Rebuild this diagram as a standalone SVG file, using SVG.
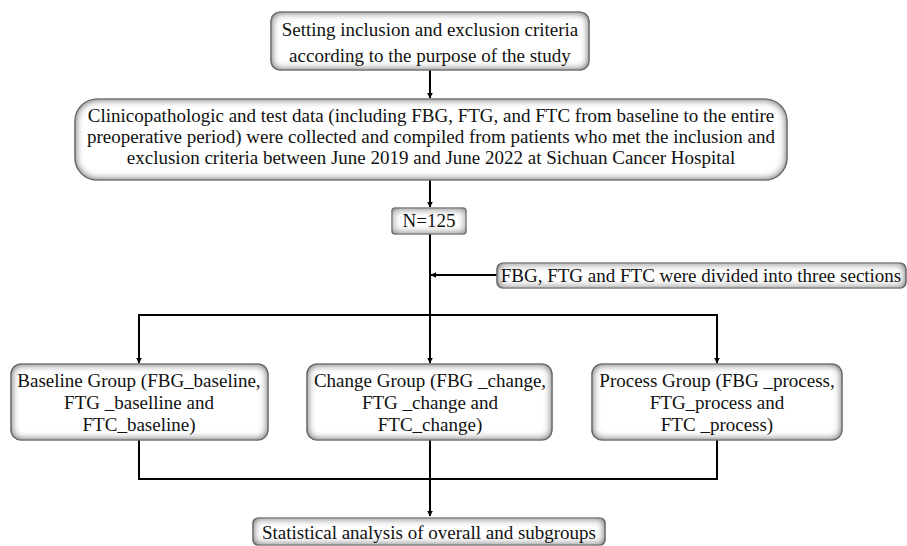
<svg xmlns="http://www.w3.org/2000/svg" width="907" height="546" viewBox="0 0 907 546">
<defs>
<style>
.box{fill:#fff;stroke:#8a8a8a;stroke-width:1.2;filter:url(#inset)}
.t{font-family:"Liberation Serif","Times New Roman",serif;font-size:19px;fill:#111;text-anchor:middle}
.ln{fill:none;stroke:#000;stroke-width:2}
</style>
<filter id="inset" x="-5%" y="-20%" width="110%" height="140%">
<feFlood flood-color="#555" result="f"/>
<feComposite in="f" in2="SourceAlpha" operator="out" result="o"/>
<feGaussianBlur in="o" stdDeviation="4" result="b"/>
<feComposite in="b" in2="SourceAlpha" operator="in" result="s"/>
<feMerge><feMergeNode in="SourceGraphic"/><feMergeNode in="s"/><feMergeNode in="s"/></feMerge>
</filter>
<marker id="ah" viewBox="0 0 10 10" refX="9" refY="5" markerWidth="3" markerHeight="3" orient="auto" markerUnits="strokeWidth">
<path d="M0,0 L10,5 L0,10 z" fill="#000"/>
</marker>
</defs>
<rect width="907" height="546" fill="#fff"/>
<g id="connectors">
<path class="ln" d="M430,70 V98" marker-end="url(#ah)"/>
<path class="ln" d="M430,180 V207" marker-end="url(#ah)"/>
<path class="ln" d="M430,234 V363" marker-end="url(#ah)"/>
<path class="ln" d="M497,275 H431" marker-end="url(#ah)"/>
<path class="ln" d="M139,363 V315 H717 V363" />
<path class="ln" d="M139,356 V363" marker-end="url(#ah)"/>
<path class="ln" d="M717,356 V363" marker-end="url(#ah)"/>
<path class="ln" d="M139,440 V479 H717 V440"/>
<path class="ln" d="M430,440 V516" marker-end="url(#ah)"/>
</g>
<g id="n1">
<rect class="box" x="271" y="12" width="318" height="58" rx="9"/>
<text class="t" x="430" y="36">Setting inclusion and exclusion criteria</text>
<text class="t" x="430" y="62">according to the purpose of the study</text>
</g>
<g id="n2">
<rect class="box" x="75" y="99" width="712" height="81" rx="22"/>
<text class="t" x="431" y="122">Clinicopathologic and test data (including FBG, FTG, and FTC from baseline to the entire</text>
<text class="t" x="431" y="143">preoperative period) were collected and compiled from patients who met the inclusion and</text>
<text class="t" x="431" y="164">exclusion criteria between June 2019 and June 2022 at Sichuan Cancer Hospital</text>
</g>
<g id="n3">
<rect class="box" x="392" y="208" width="74" height="26" rx="3"/>
<text class="t" x="429" y="227">N=125</text>
</g>
<g id="n4">
<rect class="box" x="497" y="263" width="409" height="25" rx="6"/>
<text class="t" x="701" y="282">FBG, FTG and FTC were divided into three sections</text>
</g>
<g id="n5">
<rect class="box" x="11" y="364" width="257" height="76" rx="10"/>
<text class="t" x="139" y="387">Baseline Group (FBG_baseline,</text>
<text class="t" x="139" y="409">FTG _baselline and</text>
<text class="t" x="139" y="431">FTC_baseline)</text>
</g>
<g id="n6">
<rect class="box" x="307" y="364" width="245" height="76" rx="10"/>
<text class="t" x="430" y="387">Change Group (FBG _change,</text>
<text class="t" x="430" y="409">FTG _change and</text>
<text class="t" x="430" y="431">FTC_change)</text>
</g>
<g id="n7">
<rect class="box" x="592" y="364" width="250" height="76" rx="10"/>
<text class="t" x="717" y="387">Process Group (FBG _process,</text>
<text class="t" x="717" y="409">FTG_process and</text>
<text class="t" x="717" y="431">FTC _process)</text>
</g>
<g id="n8">
<rect class="box" x="253" y="518" width="352" height="27" rx="5"/>
<text class="t" x="429" y="539">Statistical analysis of overall and subgroups</text>
</g>
</svg>
